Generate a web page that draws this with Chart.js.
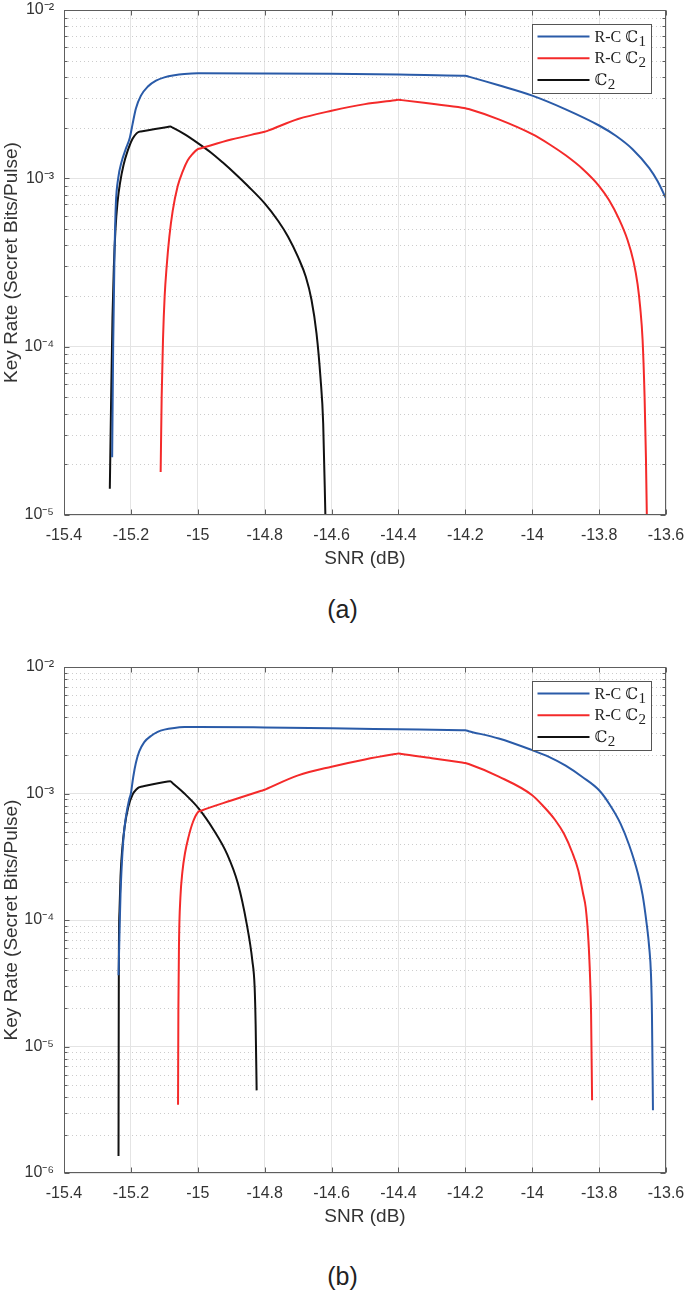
<!DOCTYPE html>
<html><head><meta charset="utf-8">
<script src="https://cdn.jsdelivr.net/npm/chart.js@4.4.0/dist/chart.umd.min.js"></script>
<style>
html,body{margin:0;padding:0;background:#fff;width:685px;height:1291px;overflow:hidden;}
.wrap{position:absolute;left:0;width:685px;}
.cap{position:absolute;left:0;width:685px;text-align:center;font-family:"Liberation Sans",Arial,sans-serif;font-size:25px;color:#222;line-height:30px;}
</style></head><body>
<div class="wrap" style="top:0;height:580px"><canvas id="ca"></canvas></div>
<div class="cap" style="top:594px">(a)</div>
<div class="wrap" style="top:620px;height:620px"><canvas id="cb"></canvas></div>
<div class="cap" style="top:1261px">(b)</div>
<script>
// ---- tick labels ----
const xTickValues = [-15.4,-15.2,-15.0,-14.8,-14.6,-14.4,-14.2,-14.0,-13.8,-13.6];
const xTickLabels = ['-15.4','-15.2','-15','-14.8','-14.6','-14.4','-14.2','-14','-13.8','-13.6'];
const yTickValuesA = [1e-5,1e-4,1e-3,1e-2];
const yTickLabelsA = ['10\u207B\u2075','10\u207B\u2074','10\u207B\u00B3','10\u207B\u00B2'];
const yTickValuesB = [1e-6,1e-5,1e-4,1e-3,1e-2];
const yTickLabelsB = ['10\u207B\u2076','10\u207B\u2075','10\u207B\u2074','10\u207B\u00B3','10\u207B\u00B2'];
const seriesLabels = ['R-C \u2102\u2081','R-C \u2102\u2082','\u2102\u2082'];

// ---- panel (a) ----
const aBlueX = [-15.256,-15.253,-15.249,-15.245,-15.238,-15.228,-15.215,-15.203,-15.195,-15.185,-15.17,-15.15,-15.125,-15.1,-15.07,-15.04,-15.0,-14.8,-14.6,-14.4,-14.21,-14.2,-14.19,-14.1,-14.0,-13.9,-13.8,-13.75,-13.7,-13.65,-13.625,-13.6];
const aBlueY = [2.2e-5,1.0e-4,3.5e-4,7.0e-4,1.0e-3,1.25e-3,1.5e-3,1.75e-3,2.1e-3,2.6e-3,3.1e-3,3.5e-3,3.8e-3,3.98e-3,4.1e-3,4.17e-3,4.21e-3,4.2e-3,4.18e-3,4.14e-3,4.073e-3,4.07e-3,4.02e-3,3.57e-3,3.1e-3,2.57e-3,2.06e-3,1.79e-3,1.49e-3,1.15e-3,9.6e-4,7.6e-4];
const aRedX = [-15.111,-15.108,-15.104,-15.099,-15.093,-15.085,-15.075,-15.06,-15.045,-15.03,-15.015,-15.0,-14.99,-14.9,-14.81,-14.8,-14.79,-14.7,-14.6,-14.5,-14.41,-14.4,-14.39,-14.3,-14.21,-14.2,-14.19,-14.1,-14.0,-13.95,-13.9,-13.85,-13.8,-13.77,-13.74,-13.715,-13.697,-13.685,-13.677,-13.67,-13.664,-13.66,-13.657];
const aRedY = [1.8e-5,5.0e-5,1.1e-4,2.0e-4,3.0e-4,4.5e-4,6.4e-4,9.0e-4,1.1e-3,1.28e-3,1.4e-3,1.49e-3,1.51e-3,1.7e-3,1.87e-3,1.89e-3,1.92e-3,2.25e-3,2.52e-3,2.76e-3,2.91e-3,2.93e-3,2.915e-3,2.77e-3,2.63e-3,2.61e-3,2.58e-3,2.24e-3,1.83e-3,1.6e-3,1.37e-3,1.14e-3,9.0e-4,7.4e-4,5.7e-4,4.3e-4,3.2e-4,2.35e-4,1.7e-4,1.1e-4,5.0e-5,2.2e-5,9.0e-6];
const aBlackX = [-15.263,-15.259,-15.255,-15.251,-15.246,-15.24,-15.232,-15.222,-15.21,-15.195,-15.183,-15.176,-15.17,-15.09,-15.082,-15.075,-15.04,-15.0,-14.96,-14.925,-14.885,-14.85,-14.8,-14.76,-14.73,-14.7,-14.677,-14.66,-14.645,-14.633,-14.625,-14.618];
const aBlackY = [1.43e-5,5.0e-5,1.5e-4,2.96e-4,5.0e-4,7.2e-4,9.5e-4,1.2e-3,1.45e-3,1.72e-3,1.85e-3,1.89e-3,1.9e-3,2.02e-3,2.03e-3,2.0e-3,1.83e-3,1.62e-3,1.42e-3,1.24e-3,1.05e-3,9.0e-4,7.1e-4,5.6e-4,4.5e-4,3.4e-4,2.6e-4,1.9e-4,1.2e-4,6.5e-5,3.5e-5,9.0e-6];

// ---- panel (b) ----
const bBlueX = [-15.237,-15.234,-15.231,-15.227,-15.222,-15.215,-15.205,-15.2,-15.193,-15.185,-15.175,-15.16,-15.14,-15.12,-15.1,-15.07,-15.04,-15.0,-14.8,-14.6,-14.4,-14.21,-14.2,-14.19,-14.1,-14.0,-13.95,-13.9,-13.85,-13.8,-13.77,-13.736,-13.71,-13.684,-13.67,-13.658,-13.65,-13.645,-13.642,-13.639];
const bBlueY = [3.66e-5,8.0e-5,1.6e-4,2.8e-4,4.5e-4,6.5e-4,9.0e-4,1.0e-3,1.35e-3,1.75e-3,2.15e-3,2.55e-3,2.85e-3,3.07e-3,3.2e-3,3.3e-3,3.35e-3,3.36e-3,3.33e-3,3.28e-3,3.22e-3,3.165e-3,3.16e-3,3.11e-3,2.72e-3,2.2e-3,1.95e-3,1.66e-3,1.35e-3,1.06e-3,8.3e-4,5.78e-4,3.9e-4,2.33e-4,1.58e-4,9.4e-5,6.0e-5,3.77e-5,1.8e-5,3.13e-6];
const bRedX = [-15.059,-15.058,-15.056,-15.052,-15.046,-15.038,-15.028,-15.015,-15.0,-14.99,-14.9,-14.81,-14.8,-14.79,-14.7,-14.6,-14.5,-14.41,-14.4,-14.39,-14.3,-14.21,-14.2,-14.19,-14.1,-14.0,-13.966,-13.932,-13.905,-13.88,-13.862,-13.848,-13.84,-13.832,-13.827,-13.824,-13.821];
const bRedY = [3.47e-6,2.0e-5,6.9e-5,1.5e-4,2.4e-4,3.4e-4,4.5e-4,5.9e-4,7.1e-4,7.3e-4,8.8e-4,1.05e-3,1.07e-3,1.1e-3,1.39e-3,1.63e-3,1.86e-3,2.05e-3,2.07e-3,2.05e-3,1.9e-3,1.755e-3,1.74e-3,1.71e-3,1.36e-3,9.7e-4,7.9e-4,6.2e-4,4.8e-4,3.4e-4,2.45e-4,1.62e-4,1.25e-4,6.9e-5,3.5e-5,1.8e-5,3.76e-6];
const bBlackX = [-15.237,-15.2365,-15.236,-15.234,-15.231,-15.226,-15.219,-15.208,-15.195,-15.183,-15.176,-15.17,-15.09,-15.082,-15.075,-15.04,-14.997,-14.952,-14.913,-14.88,-14.854,-14.837,-14.83,-14.827,-14.824];
const bBlackY = [1.36e-6,1.0e-5,5.0e-5,1.2e-4,2.2e-4,3.6e-4,5.4e-4,7.8e-4,9.8e-4,1.08e-3,1.12e-3,1.13e-3,1.245e-3,1.25e-3,1.205e-3,1.0e-3,7.6e-4,5.13e-4,3.35e-4,1.94e-4,9.4e-5,4.8e-5,2.95e-5,1.5e-5,4.5e-6];

const COLORS = ['#2a5ba8','#f42a2a','#111111'];
const SANS = '"Liberation Sans", Arial, Helvetica, sans-serif';

const framePlugin = {
  id: 'frame',
  beforeDatasetsDraw(chart) {
    const {ctx, chartArea: a, scales: {y}} = chart;
    ctx.save();
    ctx.strokeStyle = '#cccccc'; ctx.lineWidth = 1; ctx.setLineDash([1, 3]);
    const lo = Math.round(Math.log10(y.min)), hi = Math.round(Math.log10(y.max));
    for (let d = lo; d < hi; d++) for (let k = 2; k <= 9; k++) {
      const py = Math.round(y.getPixelForValue(k * Math.pow(10, d))) + 0.5;
      ctx.beginPath(); ctx.moveTo(a.left, py); ctx.lineTo(a.right, py); ctx.stroke();
    }
    ctx.restore();
  },
  afterDraw(chart) {
    const {ctx, chartArea: a, scales: {x, y}} = chart;
    ctx.save();
    ctx.strokeStyle = '#5e5e5e'; ctx.lineWidth = 1; ctx.setLineDash([]);
    const L = Math.round(a.left) + 0.5, R = Math.round(a.right) - 0.5, T = Math.round(a.top) + 0.5, B = Math.round(a.bottom) - 0.5;
    ctx.strokeRect(L, T, R - L, B - T);
    ctx.beginPath();
    x.ticks.forEach(t => { const px = Math.round(x.getPixelForValue(t.value)) + 0.5; ctx.moveTo(px, B); ctx.lineTo(px, B - 5); ctx.moveTo(px, T); ctx.lineTo(px, T + 5); });
    const lo = Math.round(Math.log10(y.min)), hi = Math.round(Math.log10(y.max));
    for (let d = lo; d <= hi; d++) for (let k = 1; k <= 9; k++) {
      if (d === hi && k > 1) break;
      const py = Math.round(y.getPixelForValue(k * Math.pow(10, d))) + 0.5;
      const len = k === 1 ? 5 : 3;
      ctx.moveTo(L, py); ctx.lineTo(L + len, py); ctx.moveTo(R, py); ctx.lineTo(R - len, py);
    }
    ctx.stroke();
    // legend
    const bw = 119, bh = 69;
    const bx = Math.round(a.right) - 15 - bw + 0.5, by = Math.round(a.top) + 14 + 0.5;
    ctx.fillStyle = '#fff'; ctx.fillRect(bx, by, bw, bh);
    ctx.strokeStyle = '#555'; ctx.lineWidth = 1; ctx.strokeRect(bx, by, bw, bh);
    chart.data.datasets.forEach((ds, i) => {
      const ry = by + 12 + i * 21.8;
      ctx.strokeStyle = ds.borderColor; ctx.lineWidth = 2;
      ctx.beginPath(); ctx.moveTo(bx + 5, ry); ctx.lineTo(bx + 57, ry); ctx.stroke();
      const lab = ds.label;
      const sub = lab.slice(-1), main = lab.slice(0, -1);
      const subDigit = String.fromCharCode(sub.charCodeAt(0) - 0x2080 + 48);
      ctx.fillStyle = '#222'; ctx.textBaseline = 'alphabetic'; ctx.textAlign = 'left';
      let tx = bx + 62;
      const pre = main.replace('\u2102', '');
      ctx.font = '16px "Liberation Serif", "Times New Roman", serif';
      ctx.fillText(pre, tx, ry + 5); tx += ctx.measureText(pre).width;
      ctx.font = '16px "DejaVu Serif", serif';
      ctx.fillText('\u2102', tx, ry + 5); tx += ctx.measureText('\u2102').width + 0.5;
      ctx.font = '15px "Liberation Serif", "Times New Roman", serif';
      ctx.fillText(subDigit, tx, ry + 9);
    });
    ctx.restore();
  }
};

function pts(xs, ys) { return xs.map((v, i) => ({x: v, y: ys[i]})); }

function build(id, series, yVals, yLabels, padTop, padBottom) {
  return new Chart(document.getElementById(id), {
    type: 'line',
    data: {
      datasets: series.map((s, i) => ({
        label: seriesLabels[i], data: pts(s[0], s[1]),
        borderColor: COLORS[i], backgroundColor: COLORS[i], borderWidth: 2,
        pointRadius: 0, cubicInterpolationMode: 'monotone', fill: false
      }))
    },
    options: {
      responsive: true, maintainAspectRatio: false, animation: false,
      layout: {padding: {left: 0, right: 0, top: padTop, bottom: padBottom}},
      plugins: {legend: {display: false}, tooltip: {enabled: false}},
      scales: {
        x: {
          type: 'linear', min: xTickValues[0], max: xTickValues[xTickValues.length - 1],
          afterBuildTicks(s) { s.ticks = xTickValues.map(v => ({value: v})); },
          afterFit(s) { s.height = 59; s.paddingLeft = 0; s.paddingRight = 19; },
          ticks: {callback: (v, i) => xTickLabels[i], font: {family: SANS, size: 16}, color: '#333', padding: 11, maxRotation: 0, autoSkip: false},
          grid: {color: '#e4e4e4', drawTicks: false, lineWidth: 1},
          border: {display: false},
          title: {display: true, text: 'SNR (dB)', font: {family: SANS, size: 19}, color: '#333', padding: {top: 4, bottom: 4}}
        },
        y: {
          type: 'logarithmic', min: yVals[0], max: yVals[yVals.length - 1],
          afterBuildTicks(s) { s.ticks = yVals.map(v => ({value: v})); },
          afterFit(s) { s.width = 64; s.paddingTop = 0; s.paddingBottom = 0; },
          ticks: {callback: (v, i) => yLabels[i], font: {family: SANS, size: 16}, color: '#333', padding: 10, autoSkip: false},
          grid: {color: '#e4e4e4', drawTicks: false, lineWidth: 1},
          border: {display: false},
          title: {display: true, text: 'Key Rate (Secret Bits/Pulse)', font: {family: SANS, size: 19}, color: '#333', padding: {top: 0, bottom: 0}}
        }
      }
    },
    plugins: [framePlugin]
  });
}

build('ca', [[aBlueX, aBlueY], [aRedX, aRedY], [aBlackX, aBlackY]], yTickValuesA, yTickLabelsA, 10, 6);
build('cb', [[bBlueX, bBlueY], [bRedX, bRedY], [bBlackX, bBlackY]], yTickValuesB, yTickLabelsB, 47, 8);
</script>
</body></html>
